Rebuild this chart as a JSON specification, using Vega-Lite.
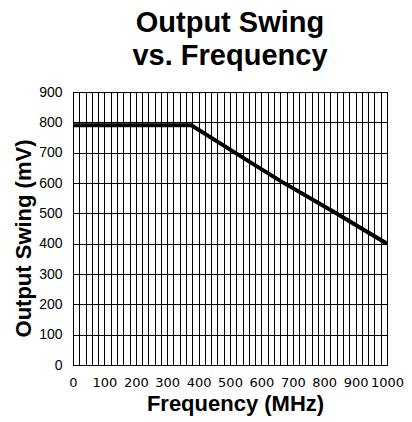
{
  "$schema": "https://vega.github.io/schema/vega-lite/v6.json",
  "width": 314,
  "height": 273,
  "autosize": {"type": "none"},
  "padding": {"left": 73, "top": 92, "right": 25, "bottom": 57},
  "background": "white",
  "title": {
    "text": ["Output Swing", "vs. Frequency"],
    "font": "Liberation Sans",
    "fontSize": 29,
    "fontWeight": "bold",
    "color": "black",
    "lineHeight": 33,
    "anchor": "middle",
    "offset": 14
  },
  "config": {
    "view": {"stroke": "black", "strokeWidth": 1},
    "axis": {
      "labelFont": "Liberation Sans",
      "labelFontSize": 14,
      "labelColor": "black",
      "titleFont": "Liberation Sans",
      "titleFontSize": 22,
      "titleFontWeight": "bold",
      "titleColor": "black",
      "gridColor": "black",
      "gridOpacity": 1,
      "gridWidth": 1,
      "domainColor": "black",
      "ticks": false
    }
  },
  "data": {
    "values": [
      {"freq": 0, "swing": 790},
      {"freq": 377, "swing": 790},
      {"freq": 550, "swing": 678},
      {"freq": 660, "swing": 607},
      {"freq": 830, "swing": 505},
      {"freq": 1000, "swing": 400}
    ]
  },
  "mark": {"type": "line", "color": "black", "strokeWidth": 4, "clip": true},
  "encoding": {
    "x": {
      "field": "freq",
      "type": "quantitative",
      "scale": {"domain": [0, 1000], "nice": false},
      "axis": {
        "title": "Frequency (MHz)",
        "values": [0,20,40,60,80,100,120,140,160,180,200,220,240,260,280,300,320,340,360,380,400,420,440,460,480,500,520,540,560,580,600,620,640,660,680,700,720,740,760,780,800,820,840,860,880,900,920,940,960,980,1000],
        "labelExpr": "datum.value % 100 == 0 ? datum.label : ''",
        "format": "d",
        "labelFont": "DejaVu Sans",
        "labelFontSize": 13,
        "labelOverlap": false,
        "labelBound": false,
        "labelFlush": false,
        "labelPadding": 11,
        "labelDx": 5,
        "titlePadding": 4,
        "titleX": 162
      }
    },
    "y": {
      "field": "swing",
      "type": "quantitative",
      "scale": {"domain": [0, 900], "nice": false},
      "axis": {
        "title": "Output Swing (mV)",
        "values": [0,100,200,300,400,500,600,700,800,900],
        "labelPadding": 11,
        "titlePadding": 3,
        "titleY": 146
      }
    }
  }
}
